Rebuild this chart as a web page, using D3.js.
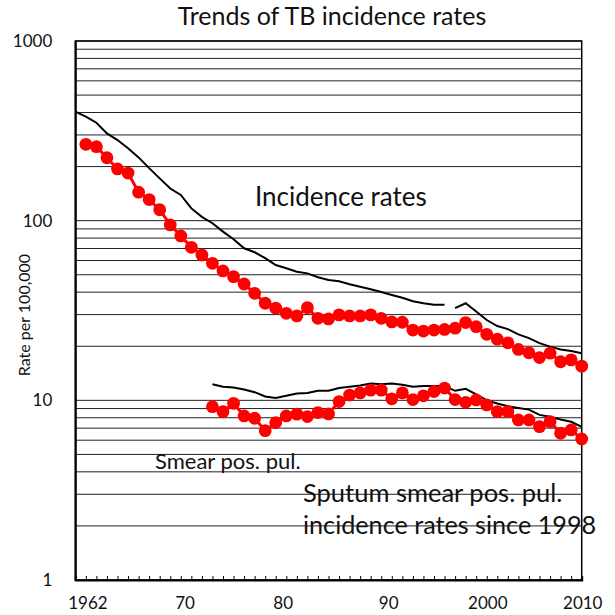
<!DOCTYPE html>
<html>
<head>
<meta charset="utf-8">
<script src="https://cdn.jsdelivr.net/npm/d3@7"></script>
<style>
  html, body { margin: 0; padding: 0; background: #fff; }
  svg { display: block; font-family: Lato, "Open Sans", sans-serif; }
</style>
</head>
<body>
<div id="chart"></div>
<script>
// Trends of TB incidence rates (log scale, per 100,000)

// Incidence rates, all forms (black line), interrupted between 1997 and 1998
const incidenceYearsA = [1962, 1963, 1964, 1965, 1966, 1967, 1968, 1969, 1970, 1971, 1972, 1973,
  1974, 1975, 1976, 1977, 1978, 1979, 1980, 1981, 1982, 1983, 1984, 1985, 1986, 1987, 1988,
  1989, 1990, 1991, 1992, 1993, 1994, 1995, 1996, 1997];
const incidenceA = [405, 379, 351, 306, 281, 253, 225, 196, 172, 151, 139, 117,
  105, 96.8, 86.9, 78.8, 70.2, 66.7, 61.8, 56.6, 54.3, 52.0, 50.9, 48.4, 46.8, 46.0, 44.3,
  42.9, 41.5, 40.1, 38.6, 37.2, 35.6, 34.7, 34.0, 34.0];
const incidenceYearsB = [1998, 1999, 2000, 2001, 2002, 2003, 2004, 2005, 2006, 2007, 2008, 2009, 2010];
const incidenceB = [32.6, 34.7, 31.2, 28.0, 25.9, 24.9, 23.3, 22.2, 20.8, 19.9, 19.2, 18.8, 18.3];

// Red dots, upper series
const upperDotYears = [1963, 1964, 1965, 1966, 1967, 1968, 1969, 1970, 1971, 1972, 1973, 1974,
  1975, 1976, 1977, 1978, 1979, 1980, 1981, 1982, 1983, 1984, 1985, 1986, 1987, 1988, 1989,
  1990, 1991, 1992, 1993, 1994, 1995, 1996, 1997, 1998, 1999, 2000, 2001, 2002, 2003, 2004,
  2005, 2006, 2007, 2008, 2009, 2010];
const upperDots = [266, 258, 224, 194, 184, 144, 131, 115, 94.7, 82.2, 71.1, 64.4,
  57.9, 52.5, 48.8, 44.4, 39.4, 34.7, 32.6, 30.5, 29.5, 32.8, 28.6, 28.4, 29.9, 29.5, 29.5,
  29.9, 28.6, 27.3, 27.2, 24.6, 24.3, 24.6, 24.8, 25.2, 27.1, 25.7, 23.3, 21.9, 20.9, 19.2,
  18.4, 17.3, 18.3, 16.4, 16.8, 15.5];

// Smear pos. pul.: black line and red dots, from 1975
const smearYears = [1975, 1976, 1977, 1978, 1979, 1980, 1981, 1982, 1983, 1984, 1985, 1986,
  1987, 1988, 1989, 1990, 1991, 1992, 1993, 1994, 1995, 1996, 1997, 1998, 1999, 2000, 2001,
  2002, 2003, 2004, 2005, 2006, 2007, 2008, 2009, 2010];
const smearLine = [12.3, 11.9, 11.8, 11.5, 11.1, 10.5, 10.3, 10.6, 10.9, 11.0, 11.3, 11.3,
  11.7, 11.9, 12.1, 12.4, 12.3, 12.4, 12.2, 11.9, 12.0, 12.0, 12.0, 11.3, 11.6, 10.8, 10.0,
  9.6, 9.27, 9.07, 8.88, 8.30, 8.1, 7.83, 7.6, 7.11];
const smearDots = [9.22, 8.65, 9.63, 8.19, 7.95, 6.78, 7.52, 8.19, 8.38, 8.12, 8.55, 8.40,
  9.84, 10.7, 11.0, 11.4, 11.4, 10.2, 11.0, 10.1, 10.6, 11.2, 11.7, 10.1, 9.75, 10.05, 9.43,
  8.65, 8.65, 7.78, 7.78, 7.14, 7.61, 6.56, 6.84, 6.10];

// Axis texts
const yTickValues = [1, 10, 100, 1000];
const xTickLabels = ["1962", "70", "80", "90", "2000", "2010"];
// the labels sit a little off the years in the original slide
const xTickLabelAt = [1963.2, 1972.4, 1981.7, 1991.7, 2001.1, 2010.1];

const width = 615;
const height = 615;
const margin = { top: 41, right: 33.3, bottom: 35, left: 75.3 };

const svg = d3.select("#chart").append("svg")
  .attr("width", width)
  .attr("height", height);

// Skalen
const x = d3.scaleLinear()
  .domain([1962, 2010])
  .range([margin.left, width - margin.right]);

const y = d3.scaleLog()
  .domain([1, 1000])
  .range([height - margin.bottom, margin.top]);

// Title
svg.append("text")
  .attr("x", 332)
  .attr("y", 25)
  .attr("text-anchor", "middle")
  .attr("font-size", 25)
  .attr("fill", "#111")
  .text("Trends of TB incidence rates");

// Gridlines: every 1..9 of each decade
const gridValues = [];
for (let d = 1; d < 1000; d *= 10) {
  for (let k = 1; k < 10; k++) gridValues.push(d * k);
}
gridValues.push(1000);

svg.append("g")
  .selectAll("line")
  .data(gridValues)
  .join("line")
  .attr("x1", x.range()[0])
  .attr("x2", x.range()[1])
  .attr("y1", d => y(d))
  .attr("y2", d => y(d))
  .attr("stroke", "#222")
  .attr("stroke-width", 1);

// Frame
svg.append("rect")
  .attr("x", x.range()[0])
  .attr("y", y.range()[1])
  .attr("width", x.range()[1] - x.range()[0])
  .attr("height", y.range()[0] - y.range()[1])
  .attr("fill", "none")
  .attr("stroke", "#000")
  .attr("stroke-width", 1.5);

// x axis: yearly ticks pointing up into the plot, labels placed separately
const xAxis = svg.append("g")
  .attr("transform", `translate(0,${y.range()[0]})`)
  .call(d3.axisTop(x)
    .tickValues(d3.range(1963, 2010))
    .tickSize(4)
    .tickFormat(""));
xAxis.select(".domain").attr("stroke-width", 2);
xAxis.selectAll(".tick line").attr("stroke", "#000");

svg.append("g")
  .selectAll("text")
  .data(xTickLabels)
  .join("text")
  .attr("x", (d, i) => x(xTickLabelAt[i]))
  .attr("y", 609)
  .attr("text-anchor", "middle")
  .attr("font-size", 17)
  .attr("fill", "#111")
  .text(d => d);

// y axis
const yAxis = svg.append("g")
  .attr("transform", `translate(${x.range()[0]},0)`)
  .call(d3.axisLeft(y)
    .tickValues(yTickValues)
    .tickSize(0)
    .tickPadding(23)
    .tickFormat(d3.format("d")));
yAxis.select(".domain").attr("stroke-width", 2);
yAxis.selectAll(".tick text")
  .attr("font-size", 17)
  .attr("font-family", "Lato, 'Open Sans', sans-serif")
  .attr("fill", "#111");

svg.append("text")
  .attr("transform", "translate(30,315) rotate(-90)")
  .attr("text-anchor", "middle")
  .attr("font-size", 16)
  .attr("fill", "#111")
  .text("Rate per 100,000");

// Linien
const line = d3.line()
  .x(d => x(d[0]))
  .y(d => y(d[1]));

const zip = (xs, vs) => xs.map((yr, i) => [yr, vs[i]]);

[zip(incidenceYearsA, incidenceA), zip(incidenceYearsB, incidenceB), zip(smearYears, smearLine)]
  .forEach(series => {
    svg.append("path")
      .datum(series)
      .attr("fill", "none")
      .attr("stroke", "#000")
      .attr("stroke-width", 2)
      .attr("d", line);
  });

// Red dot series
[zip(upperDotYears, upperDots), zip(smearYears, smearDots)].forEach(series => {
  svg.append("path")
    .datum(series)
    .attr("fill", "none")
    .attr("stroke", "#ff0000")
    .attr("stroke-width", 3)
    .attr("d", line);
  svg.append("g")
    .selectAll("circle")
    .data(series)
    .join("circle")
    .attr("cx", d => x(d[0]))
    .attr("cy", d => y(d[1]))
    .attr("r", 6.4)
    .attr("fill", "#ff0000");
});

// Annotations
const notes = [
  { text: "Incidence rates", x: 255, y: 206, size: 26 },
  { text: "Smear pos. pul.", x: 155, y: 469, size: 22 },
  { text: "Sputum smear pos. pul.", x: 303, y: 502, size: 25.5 },
  { text: "incidence rates since 1998", x: 303, y: 534, size: 25.2 }
];
svg.append("g")
  .selectAll("text")
  .data(notes)
  .join("text")
  .attr("x", d => d.x)
  .attr("y", d => d.y)
  .attr("font-size", d => d.size)
  .attr("fill", "#111")
  .text(d => d.text);
</script>
</body>
</html>
